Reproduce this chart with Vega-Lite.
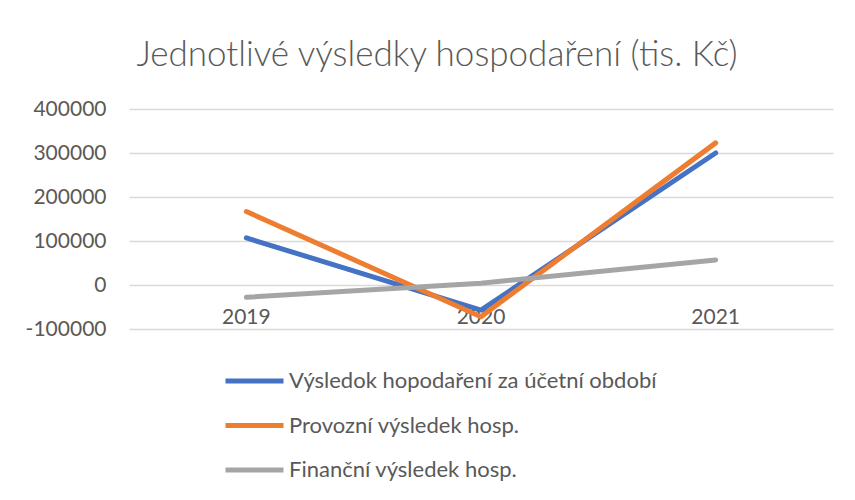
{
  "$schema": "https://vega.github.io/schema/vega-lite/v6.json",
  "autosize": "none",
  "width": 704,
  "height": 220,
  "padding": {"left": 129, "top": 109, "right": 22, "bottom": 171},
  "background": "white",
  "title": {
    "text": "Jednotlivé výsledky hospodaření (tis. Kč)",
    "font": "Lato",
    "fontSize": 35,
    "fontWeight": 300,
    "color": "#595959",
    "anchor": "middle",
    "frame": "group",
    "dx": -44,
    "offset": 25
  },
  "data": {
    "values": [
      {"rok": "2019", "serie": "Výsledok hopodaření za účetní období", "hodnota": 107000},
      {"rok": "2020", "serie": "Výsledok hopodaření za účetní období", "hodnota": -57000},
      {"rok": "2021", "serie": "Výsledok hopodaření za účetní období", "hodnota": 300000},
      {"rok": "2019", "serie": "Provozní výsledek hosp.", "hodnota": 167000},
      {"rok": "2020", "serie": "Provozní výsledek hosp.", "hodnota": -72000},
      {"rok": "2021", "serie": "Provozní výsledek hosp.", "hodnota": 323000},
      {"rok": "2019", "serie": "Finanční výsledek hosp.", "hodnota": -28000},
      {"rok": "2020", "serie": "Finanční výsledek hosp.", "hodnota": 4000},
      {"rok": "2021", "serie": "Finanční výsledek hosp.", "hodnota": 57000}
    ]
  },
  "mark": {"type": "line", "strokeWidth": 5, "strokeCap": "round", "strokeJoin": "round"},
  "encoding": {
    "x": {
      "field": "rok",
      "type": "nominal",
      "scale": {"type": "band", "paddingInner": 0, "paddingOuter": 0},
      "axis": {
        "title": null,
        "labelAngle": 0,
        "offset": -44,
        "domain": false,
        "ticks": false,
        "grid": false,
        "labelPadding": 21,
        "labelFont": "Lato",
        "labelFontSize": 21,
        "labelColor": "#595959"
      }
    },
    "y": {
      "field": "hodnota",
      "type": "quantitative",
      "scale": {"domain": [-100000, 400000], "nice": false, "zero": false},
      "axis": {
        "title": null,
        "values": [-100000, 0, 100000, 200000, 300000, 400000],
        "labelExpr": "'' + datum.value",
        "domain": false,
        "ticks": false,
        "labelPadding": 23,
        "labelFont": "Lato",
        "labelFontSize": 21,
        "labelColor": "#595959",
        "gridColor": "#d9d9d9",
        "gridWidth": 1.5
      }
    },
    "color": {
      "field": "serie",
      "type": "nominal",
      "scale": {
        "domain": ["Výsledok hopodaření za účetní období", "Provozní výsledek hosp.", "Finanční výsledek hosp."],
        "range": ["#4472C4", "#ED7D31", "#A5A5A5"]
      },
      "legend": {
        "title": null,
        "orient": "none",
        "legendX": 94,
        "legendY": 259,
        "direction": "vertical",
        "symbolType": "stroke",
        "symbolSize": 3364,
        "symbolStrokeWidth": 5,
        "clipHeight": 26,
        "rowPadding": 18.5,
        "labelOffset": 3,
        "labelFont": "Lato",
        "labelFontSize": 22,
        "labelColor": "#595959",
        "labelLimit": 500
      }
    }
  },
  "config": {"view": {"stroke": null}}
}
